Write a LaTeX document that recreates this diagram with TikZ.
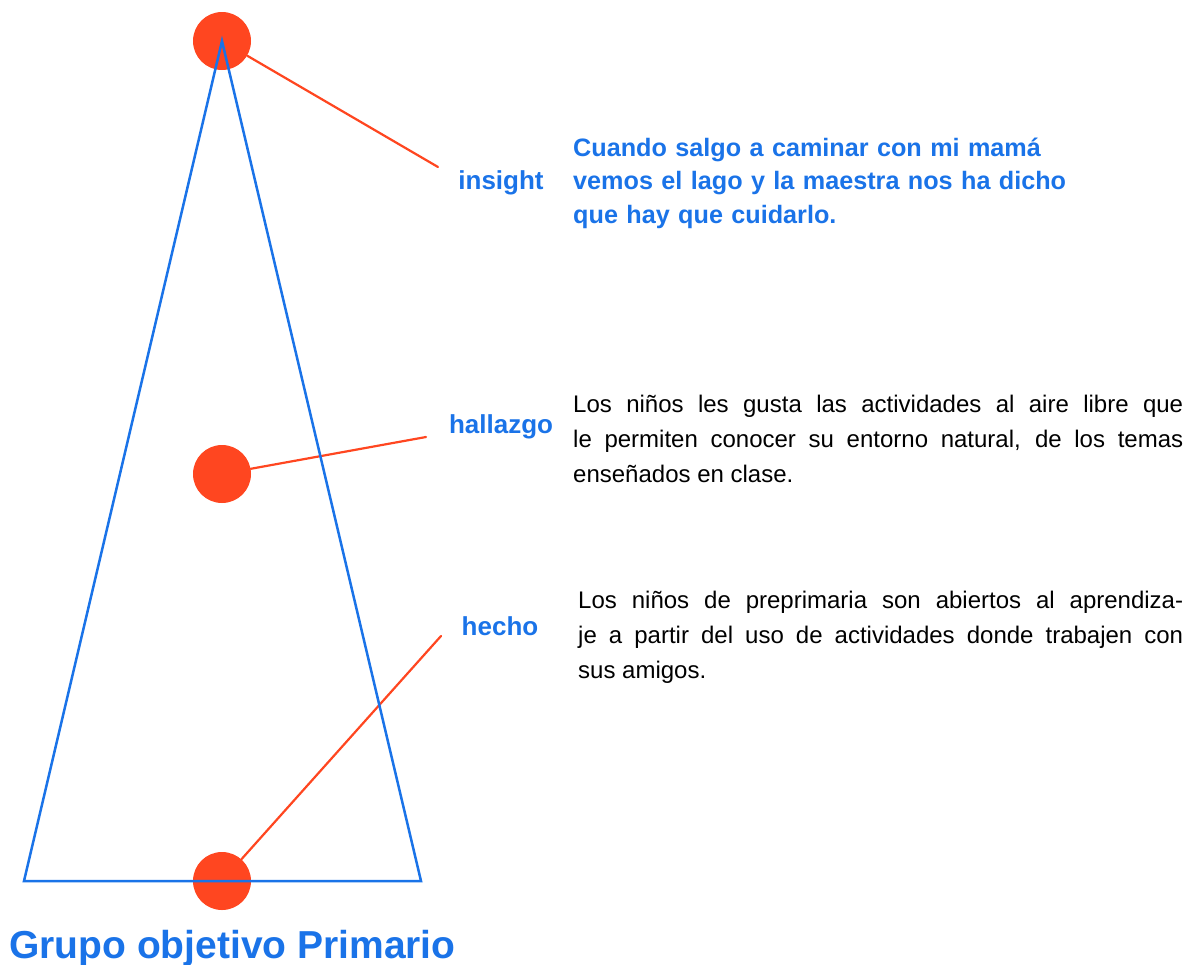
\documentclass[tikz,border=0pt]{standalone}
\usepackage{fontspec}
\setmainfont{Liberation Sans}
\definecolor{azul}{HTML}{1A73E8}
\definecolor{rojo}{HTML}{FF4620}
\begin{document}
\begin{tikzpicture}[x=1pt, y=-1pt, line join=round, line cap=round,
	punto/.style={circle, fill=rojo, minimum size=58pt, inner sep=0pt},
	enlace/.style={rojo, line width=2.2pt},
	etiqueta/.style={anchor=base, inner sep=0pt, text=azul, font=\bfseries\fontsize{26}{30}\selectfont},
	parrafo/.style={anchor=base west, inner sep=0pt, align=justify, font=\fontsize{24}{35}\selectfont}]
	\useasboundingbox (0,0) rectangle (1188,964);
	% niveles de la piramide
	\node[punto] (c-top) at (222,41) {};
	\node[punto] (c-mid) at (222,474) {};
	\node[punto] (c-bot) at (222,881) {};
	\coordinate (apex) at (222,41);
	\coordinate (bl) at (24,881);
	\coordinate (br) at (421,881);
	\coordinate (f-top) at (438,167);
	\coordinate (f-mid) at (426,437);
	\coordinate (f-bot) at (441,636);
	\draw[enlace] (c-top) -- (f-top);
	\draw[enlace] (c-mid) -- (f-mid);
	\draw[enlace] (c-bot) -- (f-bot);
	\draw[azul, line width=2.5pt, line join=miter] (apex) -- (br) -- (bl) -- cycle;
	% etiquetas
	\node[etiqueta] (l-insight) at (501,189) {insight};
	\node[etiqueta] (l-hallazgo) at (501,433) {hallazgo};
	\node[etiqueta] (l-hecho) at (500,635) {hecho};
	% textos
	\node[anchor=base west, inner sep=0pt, text width=560pt, align=left, text=azul, font=\bfseries\fontsize{25.2}{33.5}\selectfont] (t-insight) at (573,156)
		{Cuando salgo a caminar con mi mamá\\vemos el lago y la maestra nos ha dicho\\que hay que cuidarlo.};
	\node[parrafo, text width=610pt] (t-hallazgo) at (573,412)
		{Los niños les gusta las actividades al aire libre que\linebreak le permiten conocer su entorno natural, de los temas\linebreak enseñados en clase.};
	\node[parrafo, text width=605pt] (t-hecho) at (578,608)
		{Los niños de preprimaria son abiertos al aprendiza-\linebreak je a partir del uso de actividades donde trabajen con\linebreak sus amigos.};
	\node[anchor=base west, inner sep=0pt, text=azul, font=\bfseries\fontsize{39}{44}\selectfont] (titulo) at (9,958) {Grupo objetivo Primario};
\end{tikzpicture}
\end{document}
